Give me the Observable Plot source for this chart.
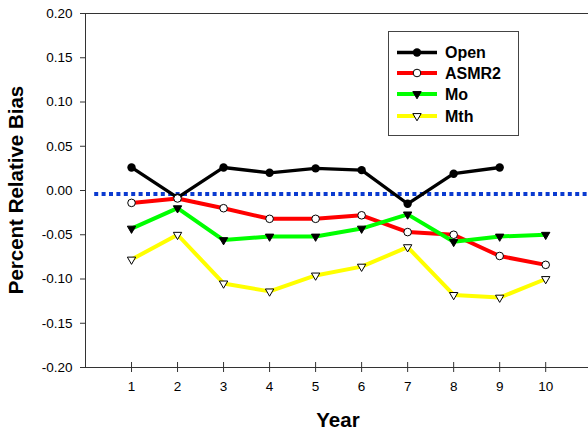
<!DOCTYPE html>
<html>
<head>
<meta charset="utf-8">
<script src="https://cdn.jsdelivr.net/npm/d3@7"></script>
<script src="https://cdn.jsdelivr.net/npm/@observablehq/plot@0.6"></script>
<style>
  body { margin: 0; background: #fff; }
  #wrap { position: relative; width: 588px; height: 431px; font-family: "Liberation Sans", Arial, sans-serif; }
  #wrap svg { position: absolute; left: 0; top: 0; }
  .chart text { font-size: 13.5px !important; fill: #000; }
</style>
</head>
<body>
<div id="wrap"></div>
<script>
// ---- data ----
const years = [1, 2, 3, 4, 5, 6, 7, 8, 9, 10];
const xTickLabels = ["1", "2", "3", "4", "5", "6", "7", "8", "9", "10"];
const seriesNames = ["Open", "ASMR2", "Mo", "Mth"];
const openValues  = [0.026, -0.008, 0.026, 0.020, 0.025, 0.023, -0.015, 0.019, 0.026, null];
const asmr2Values = [-0.014, -0.009, -0.020, -0.032, -0.032, -0.028, -0.047, -0.050, -0.074, -0.084];
const moValues    = [-0.043, -0.020, -0.056, -0.052, -0.052, -0.043, -0.027, -0.058, -0.052, -0.050];
const mthValues   = [-0.078, -0.050, -0.105, -0.114, -0.096, -0.086, -0.064, -0.118, -0.121, -0.100];
const referenceLevel = -0.004;
const yTicks = [-0.20, -0.15, -0.10, -0.05, 0.00, 0.05, 0.10, 0.15, 0.20];
const yTickLabels = ["-0.20", "-0.15", "-0.10", "-0.05", "0.00", "0.05", "0.10", "0.15", "0.20"];
const yTitle = "Percent Relative Bias";
const xTitle = "Year";

// ---- styles ----
const seriesStyle = {
  Open:  {stroke: "#000000", width: 3.3, symbol: "circle",   fill: "#000000", r: 4.2, rotate: 0,   mstroke: "none"},
  ASMR2: {stroke: "#ff0000", width: 4,   symbol: "circle",   fill: "#ffffff", r: 3.8, rotate: 0,   mstroke: "#000"},
  Mo:    {stroke: "#00ff00", width: 4,   symbol: "triangle", fill: "#000000", r: 3.1, rotate: 180, mstroke: "#000"},
  Mth:   {stroke: "#ffff00", width: 4,   symbol: "triangle", fill: "#ffffff", r: 3.1, rotate: 180, mstroke: "#000"}
};
const valueArrays = [openValues, asmr2Values, moValues, mthValues];
const rows = [];
seriesNames.forEach((s, si) => {
  years.forEach((yr, i) => {
    const v = valueArrays[si][i];
    if (v != null) rows.push({series: s, year: yr, value: v});
  });
});

const W = 588, H = 431;
const xDomain = [0, 10.93];
const yDomain = [-0.2, 0.2];

const marks = [
  // dotted reference line
  Plot.ruleY([referenceLevel], {x1: 0.2, x2: xDomain[1], stroke: "#0a3ad0", strokeWidth: 4, strokeDasharray: "4,3.4"}),
  // frame lines
  Plot.ruleX([xDomain[0]], {y1: yDomain[0], y2: yDomain[1], stroke: "#333", strokeWidth: 1}),
  Plot.ruleY([yDomain[1]], {stroke: "#333", strokeWidth: 1}),
  Plot.ruleY([yDomain[0]], {stroke: "#333", strokeWidth: 1}),
  // axes
  Plot.axisY(yTicks, {tickSize: 5, tickPadding: 8, tickFormat: (d, i) => yTickLabels[i], label: null, stroke: "#333"}),
  Plot.axisX(years, {tickSize: 10, dy: -5, text: null, label: null, stroke: "#333"}),
  Plot.axisX(years, {tickSize: 0, tickPadding: 14, tickFormat: (d, i) => xTickLabels[i], label: null})
];
seriesNames.forEach(s => {
  const st = seriesStyle[s];
  const data = rows.filter(r => r.series === s);
  marks.push(Plot.line(data, {x: "year", y: "value", stroke: st.stroke, strokeWidth: st.width, strokeLinejoin: "round"}));
  marks.push(Plot.dot(data, {x: "year", y: "value", symbol: st.symbol, r: st.r, fill: st.fill, stroke: st.mstroke, strokeWidth: 1, rotate: st.rotate}));
});

const chart = Plot.plot({
  width: W, height: H,
  className: "chart",
  marginLeft: 85, marginRight: 0, marginTop: 13, marginBottom: 64,
  x: {domain: xDomain, axis: null},
  y: {domain: yDomain, axis: null},
  style: {fontFamily: "'Liberation Sans', Arial, sans-serif", fontSize: "13.5px", color: "#000", background: "#fff"},
  marks
});
chart.classList.add("chart");
document.getElementById("wrap").appendChild(chart);

// ---- overlay: titles and legend ----
const ov = d3.select("#wrap").append("svg").attr("width", W).attr("height", H)
  .style("pointer-events", "none")
  .attr("font-family", "'Liberation Sans', Arial, sans-serif");

ov.append("text").attr("transform", "translate(23,190) rotate(-90)")
  .attr("text-anchor", "middle").attr("font-weight", "bold").attr("font-size", 20.5)
  .text(yTitle);
ov.append("text").attr("x", 338).attr("y", 427)
  .attr("text-anchor", "middle").attr("font-weight", "bold").attr("font-size", 20.5)
  .text(xTitle);

const lg = ov.append("g");
lg.append("rect").attr("x", 388.5).attr("y", 31.5).attr("width", 130).attr("height", 104)
  .attr("fill", "#fff").attr("stroke", "#444").attr("stroke-width", 1);
const rowY = [52.5, 73, 94, 116];
seriesNames.forEach((s, i) => {
  const st = seriesStyle[s];
  const g = lg.append("g").attr("transform", `translate(0,${rowY[i]})`);
  g.append("line").attr("x1", 397).attr("x2", 437).attr("y1", 0).attr("y2", 0)
    .attr("stroke", st.stroke).attr("stroke-width", st.width);
  const sym = st.symbol === "circle" ? d3.symbolCircle : d3.symbolTriangle;
  g.append("path").attr("d", d3.symbol(sym, Math.PI * st.r * st.r)())
    .attr("transform", `translate(417,0) rotate(${st.rotate})`)
    .attr("fill", st.fill).attr("stroke", st.mstroke).attr("stroke-width", 1);
  g.append("text").attr("x", 445).attr("y", 0).attr("dy", "0.36em")
    .attr("font-weight", "bold").attr("font-size", 16).text(s);
});
</script>
</body>
</html>
